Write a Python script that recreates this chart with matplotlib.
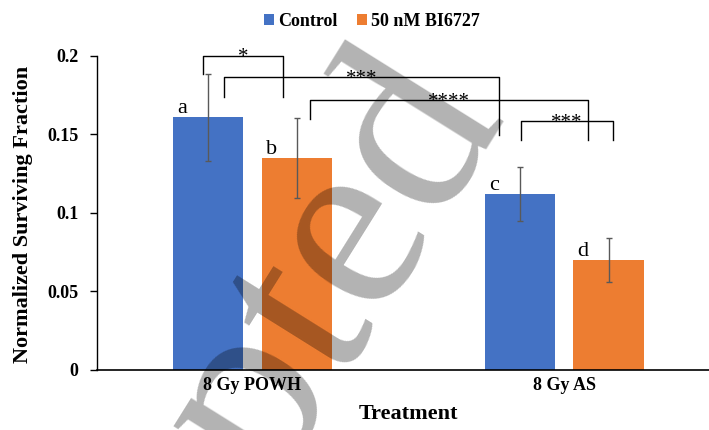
import numpy as np
import matplotlib.pyplot as plt

plt.rcParams['font.family'] = ['Liberation Serif', 'DejaVu Serif']

# ---------------------------------------------------------
# datos
# ---------------------------------------------------------
treatments = ["8 Gy POWH", "8 Gy AS"]
series = ["Control", "50 nM BI6727"]
control = [0.1607, 0.112]
control_err = [0.0274, 0.0172]
bi6727 = [0.1347, 0.070]
bi6727_err = [0.0254, 0.0142]
letters_control = ["a", "c"]
letters_bi = ["b", "d"]

# brackets: (x izq, x der, y arriba, y pata izq, y pata der, etiqueta)
brackets = [
    (-0.160, 0.099, 0.2000, 0.1882, 0.1735, "*"),
    (-0.091, 0.791, 0.1862, 0.1735, 0.1495, "***"),
    (0.185, 1.076, 0.1718, 0.1597, 0.1464, "****"),
    (0.861, 1.158, 0.1584, 0.1464, 0.1464, "***"),
]

blue = "#4472C4"
orange = "#ED7D31"
errc = "#595959"

fig = plt.figure(figsize=(7.09, 4.30), dpi=100)
ax = fig.add_axes([96.7 / 709, 1 - 370 / 430, 1 - 96.7 / 709, (370 - 55.7) / 430])

x = np.arange(len(treatments))
w = 0.226
off = 0.1424

b1 = ax.bar(x - off, control, w, color=blue, label=series[0], zorder=2)
b2 = ax.bar(x + off, bi6727, w, color=orange, label=series[1], zorder=2)
ax.errorbar(x - off, control, yerr=control_err, fmt="none", ecolor=errc,
            elinewidth=1, capsize=2.5, capthick=1, zorder=3)
ax.errorbar(x + off, bi6727, yerr=bi6727_err, fmt="none", ecolor=errc,
            elinewidth=1, capsize=2.5, capthick=1, zorder=3)

# letras sobre las barras
for xi, v, t in zip(x - off - w / 2, control, letters_control):
    ax.annotate(t, (xi, v), xytext=(3, 3), textcoords="offset points",
                ha="left", va="baseline", fontsize=16)
for xi, v, t in zip(x + off - w / 2, bi6727, letters_bi):
    ax.annotate(t, (xi, v), xytext=(3, 3), textcoords="offset points",
                ha="left", va="baseline", fontsize=16)

# brackets de significancia
for x1, x2, yt, y1, y2, lab in brackets:
    ax.plot([x1, x1, x2, x2], [y1, yt, yt, y2], color="black", lw=1,
            clip_on=False, zorder=4)
    ax.annotate(lab, ((x1 + x2) / 2, yt), xytext=(0, -4.8),
                textcoords="offset points", ha="center", va="baseline",
                fontsize=15, annotation_clip=False)

ax.set_xlim(-0.5, 1.4647)
ax.set_ylim(0, 0.2)
ax.set_yticks([0, 0.05, 0.1, 0.15, 0.2])
ax.set_yticklabels(["0", "0.05", "0.1", "0.15", "0.2"])
ax.set_xticks(x)
ax.set_xticklabels(treatments)
for lab in ax.get_xticklabels() + ax.get_yticklabels():
    lab.set_fontweight("bold")
    lab.set_fontsize(13)
ax.tick_params(axis="x", length=0, pad=5)
ax.tick_params(axis="y", length=5, width=1, pad=8, direction="out")
ax.spines["top"].set_visible(False)
ax.spines["right"].set_visible(False)
ax.spines["left"].set_linewidth(1)
ax.spines["bottom"].set_linewidth(1.2)

fig.text(23 / 709, 1 - 214 / 430, "Normalized Surviving Fraction", rotation=90,
         ha="center", va="center", fontsize=16, fontweight="bold")
fig.text(408 / 709, 1 - 414 / 430, "Treatment", ha="center", va="center",
         fontsize=16, fontweight="bold")

fig.legend(handles=[b1, b2], loc="center", bbox_to_anchor=(372 / 709, 1 - 21 / 430),
           ncol=2, frameon=False, handlelength=0.55, handleheight=0.55,
           handletextpad=0.2, columnspacing=1.1,
           prop={"weight": "bold", "size": 13})

# marca de agua
fig.text(505 / 709, 1 - 115 / 430, "Accepted", rotation=58, rotation_mode="anchor",
         ha="right", va="baseline", fontsize=185, color="black", alpha=0.3,
         zorder=10)

fig.savefig("out.png", dpi=100)
